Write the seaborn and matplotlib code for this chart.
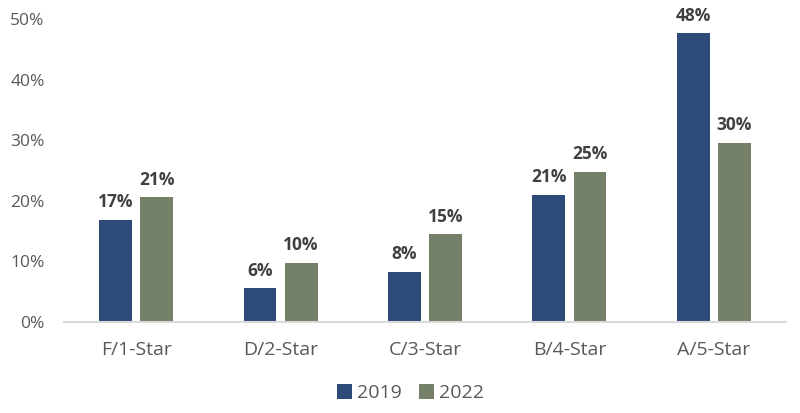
import pandas as pd
import matplotlib.pyplot as plt
import seaborn as sns

# Share of ratings per category, 2019 vs 2022 (percent)
categories = ['F/1-Star', 'D/2-Star', 'C/3-Star', 'B/4-Star', 'A/5-Star']
years = ['2019', '2022']
values_2019 = [16.9, 5.6, 8.3, 21.0, 47.6]
values_2022 = [20.6, 9.8, 14.5, 24.8, 29.6]
labels_2019 = ['17%', '6%', '8%', '21%', '48%']
labels_2022 = ['21%', '10%', '15%', '25%', '30%']

colors = ['#2E4A78', '#758068']

data = pd.DataFrame({
    'Category': categories * 2,
    'Year': [years[0]] * len(categories) + [years[1]] * len(categories),
    'Share': values_2019 + values_2022,
})

sns.set_style('white')
plt.rcParams['font.family'] = ['Open Sans', 'DejaVu Sans']

fig = plt.figure(figsize=(8, 4.13), dpi=100)
ax = fig.add_axes([0.08, 0.2203, 0.9025, 0.734])

sns.barplot(data=data, x='Category', y='Share', hue='Year', order=categories,
            hue_order=years, palette=colors, width=0.57, gap=0.2,
            saturation=1, linewidth=0, ax=ax, legend=True)

for cont, labs in zip(ax.containers, [labels_2019, labels_2022]):
    ax.bar_label(cont, labels=labs, padding=6, fontsize=12.5, fontweight='bold',
                 color='#404040', clip_on=False)

ax.set_ylim(0, 50)
ax.set_xlim(-0.5, 4.5)
ax.set_yticks([0, 10, 20, 30, 40, 50])
ax.set_yticklabels([f'{t}%' for t in [0, 10, 20, 30, 40, 50]])
ax.tick_params(axis='y', length=0, pad=14, labelsize=12.5, labelcolor='#595959')
ax.tick_params(axis='x', length=0, pad=14, labelsize=14, labelcolor='#595959')
ax.set_xlabel('')
ax.set_ylabel('')

for side in ['top', 'right', 'left']:
    ax.spines[side].set_visible(False)
ax.spines['bottom'].set_color('#D9D9D9')
ax.spines['bottom'].set_linewidth(1.5)

ax.legend(loc='center', bbox_to_anchor=(0.48, -0.235), ncol=2, frameon=False,
          fontsize=14, handlelength=0.75, handleheight=0.75,
          handletextpad=0.25, columnspacing=0.9, labelcolor='#595959')

fig.savefig('out.png', dpi=100)
